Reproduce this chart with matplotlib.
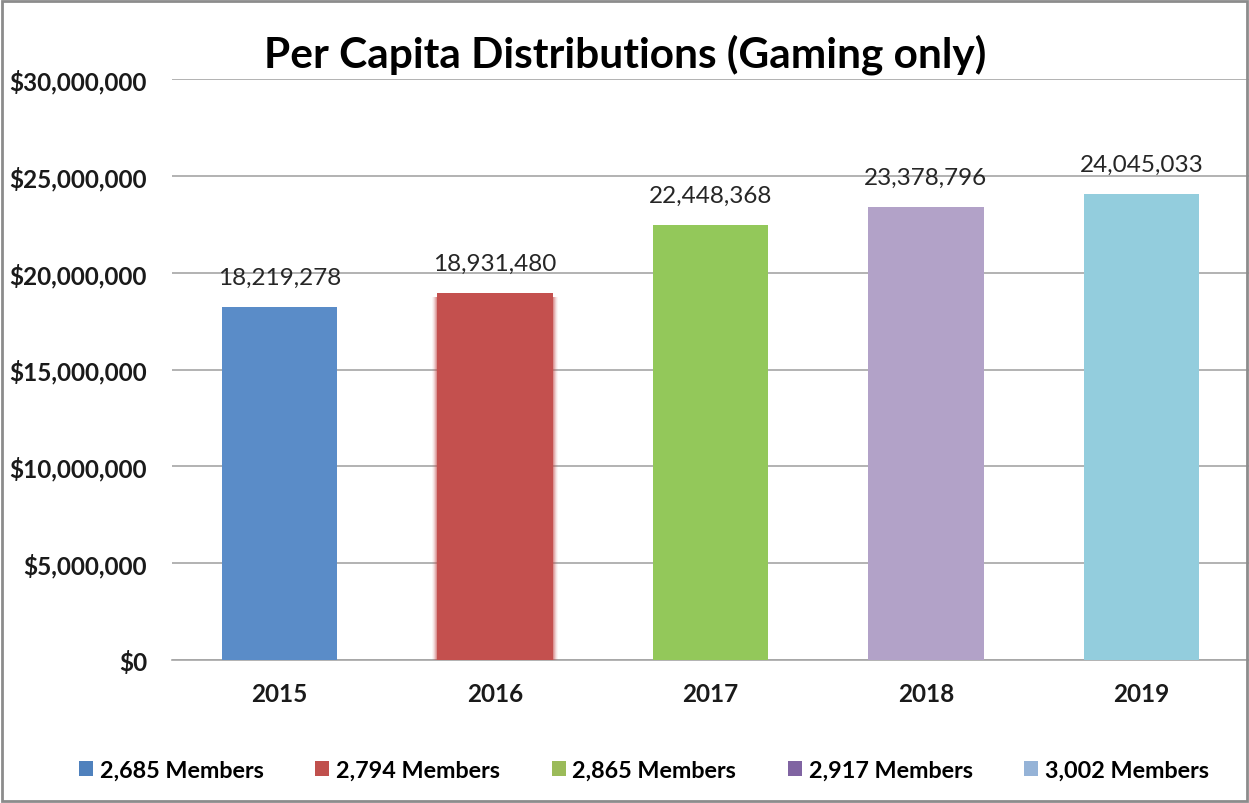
import matplotlib
matplotlib.use("Agg")
import matplotlib.pyplot as plt
from matplotlib.patches import Patch, Rectangle
from matplotlib.ticker import FuncFormatter

years = ["2015", "2016", "2017", "2018", "2019"]
distributions = [18219278, 18931480, 22448368, 23378796, 24045033]
members = ["2,685 Members", "2,794 Members", "2,865 Members", "2,917 Members", "3,002 Members"]

bar_colors = ["#5A8CC8", "#C4504E", "#93C85A", "#B2A2C8", "#93CDDD"]
legend_colors = ["#4F81BD", "#C0504D", "#9BBB59", "#8064A2", "#95B3D7"]

plt.rcParams["font.family"] = ["Lato", "DejaVu Sans"]

fig = plt.figure(figsize=(12.49, 8.04), dpi=100)
ax = fig.add_axes([172 / 1249, 1 - 661 / 804, (1249 - 172) / 1249, (661 - 80) / 804])

x = range(len(years))
width = 0.535
bars = ax.bar(x, distributions, width=width, color=bar_colors, zorder=3)

# soft glow along the sides of the 2016 bar
b = bars[1]
for i, a in enumerate([0.30, 0.22, 0.15, 0.09, 0.05]):
    pad = 0.005 * (i + 1)
    ax.add_patch(Rectangle((b.get_x() - pad, 0), b.get_width() + 2 * pad, b.get_height() * 0.99,
                           facecolor="#C4504E", alpha=a, edgecolor="none", zorder=2.9))

for xi, v in zip(x, distributions):
    ax.text(xi, v + 1000000, f"{v:,}", ha="center", va="bottom", fontsize=17.5, color="#262626")

ax.set_ylim(0, 30000000)
ax.set_xlim(-0.5, len(years) - 0.5)
ax.set_yticks(range(0, 30000001, 5000000))
ax.yaxis.set_major_formatter(FuncFormatter(lambda v, p: f"${int(v):,}"))
ax.set_xticks(list(x))
ax.set_xticklabels(years)
for lbl in ax.get_yticklabels() + ax.get_xticklabels():
    lbl.set_fontweight("bold")
    lbl.set_fontsize(17.5)
    lbl.set_color("#1a1a1a")
ax.tick_params(axis="y", length=0, pad=18)
ax.tick_params(axis="x", length=0, pad=16)
ax.grid(axis="y", color="#A6A6A6", linewidth=1.2, zorder=0)
for s in ["left", "right", "top"]:
    ax.spines[s].set_visible(False)
ax.spines["bottom"].set_color("#A6A6A6")
ax.spines["bottom"].set_linewidth(1.2)

fig.text(625 / 1249, 1 - 55 / 804, "Per Capita Distributions (Gaming only)", ha="center", va="center",
         fontsize=30.5, fontweight="bold", color="black")

handles = [Patch(facecolor=c, edgecolor="none") for c in legend_colors]
leg = fig.legend(handles, members, loc="center", bbox_to_anchor=(644 / 1249, 1 - 771 / 804), ncol=5,
                 frameon=False, handlelength=0.6, handleheight=0.6, handletextpad=0.3,
                 columnspacing=2.2, prop={"weight": "bold", "size": 16.8})

fig.patches.append(Rectangle((0.002, 0.002), 0.996, 0.996, transform=fig.transFigure, fill=False,
                             edgecolor="#8C8C8C", linewidth=2))

fig.savefig("out.png", dpi=100, facecolor="white")
